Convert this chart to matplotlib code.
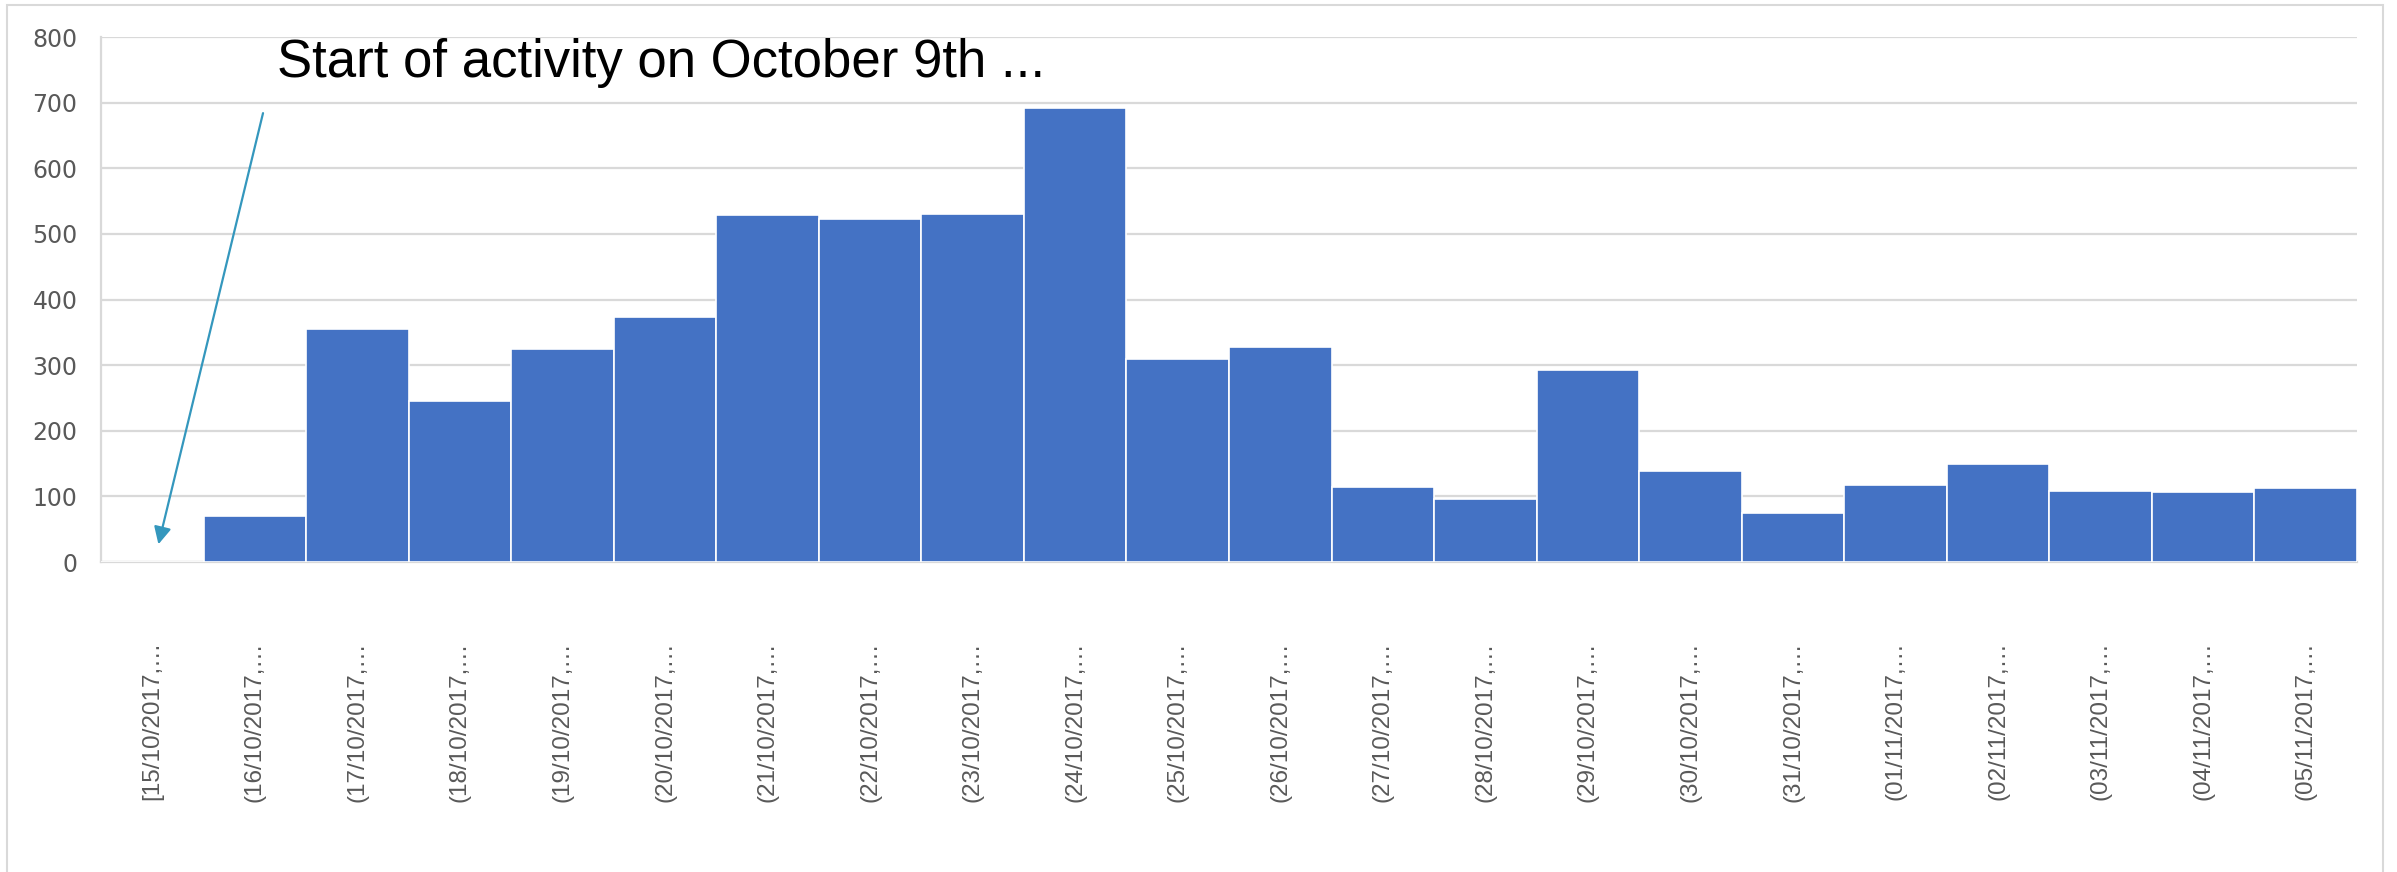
import matplotlib
matplotlib.use("Agg")
import matplotlib.pyplot as plt
from matplotlib import font_manager
from matplotlib.patches import Rectangle

# bins (daily) and counts
bins = ["[15/10/2017,…", "(16/10/2017,…", "(17/10/2017,…", "(18/10/2017,…",
        "(19/10/2017,…", "(20/10/2017,…", "(21/10/2017,…", "(22/10/2017,…",
        "(23/10/2017,…", "(24/10/2017,…", "(25/10/2017,…", "(26/10/2017,…",
        "(27/10/2017,…", "(28/10/2017,…", "(29/10/2017,…", "(30/10/2017,…",
        "(31/10/2017,…", "(01/11/2017,…", "(02/11/2017,…", "(03/11/2017,…",
        "(04/11/2017,…", "(05/11/2017,…"]
counts = [0, 70, 355, 245, 325, 374, 529, 523, 531, 692, 309, 327,
          115, 96, 292, 139, 75, 118, 149, 108, 107, 113]
y_ticks = [0, 100, 200, 300, 400, 500, 600, 700, 800]

note = "Start of activity on October 9th ..."

names = {f.name for f in font_manager.fontManager.ttflist}
narrow = "Liberation Sans Narrow" if "Liberation Sans Narrow" in names else "Liberation Sans"

W, H = 2397, 872
fig = plt.figure(figsize=(W / 100, H / 100), dpi=100)
ax = fig.add_axes([101 / W, 1 - 562 / H, (2357 - 101) / W, (562 - 37) / H])

# outer chart border
fig.patches.append(Rectangle((7 / W, -0.01), (2383 - 7) / W, 1.01 - 5 / H,
                             transform=fig.transFigure, fill=False,
                             edgecolor="#d9d9d9", lw=1.5))

x = list(range(len(bins)))
ax.bar(x, counts, width=1.0, color="#4472C4", edgecolor="white", linewidth=1.2, zorder=3)

ax.set_xlim(-0.5, len(bins) - 0.5)
ax.set_ylim(0, 800)
ax.set_yticks(y_ticks)
ax.yaxis.grid(True, color="#d9d9d9", lw=1.6, zorder=0)
ax.tick_params(axis="y", length=0, pad=17, labelsize=17, labelcolor="#595959")
ax.set_xticks(x)
ax.set_xticklabels(bins, rotation=90, fontsize=17.5, color="#595959", family=narrow)
ax.tick_params(axis="x", length=0, pad=57)

for s in ["top", "right"]:
    ax.spines[s].set_visible(False)
for s in ["left", "bottom"]:
    ax.spines[s].set_color("#d9d9d9")
    ax.spines[s].set_linewidth(1.6)

ax.annotate("", xy=(0.06, 27), xytext=(1.08, 684),
            arrowprops=dict(arrowstyle="-|>", color="#3497BD", lw=1.6,
                            mutation_scale=26, shrinkA=0, shrinkB=0),
            zorder=4)
ax.text(1.22, 760, note, fontsize=38, family=narrow, color="black",
        va="center", ha="left", zorder=5)

fig.savefig("out.png", dpi=100, facecolor="white")
